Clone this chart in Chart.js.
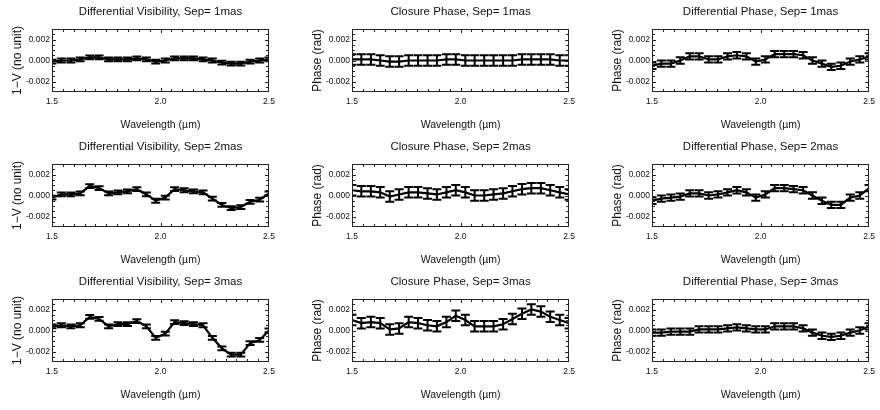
<!DOCTYPE html>
<html>
<head>
<meta charset="utf-8">
<script src="https://cdn.jsdelivr.net/npm/chart.js@4/dist/chart.umd.min.js"></script>
<style>
  html, body { margin: 0; padding: 0; background: #fff; }
  #wrap { position: relative; width: 880px; height: 410px; overflow: hidden; }
  #wrap canvas { position: absolute; }
</style>
</head>
<body>
<div id="wrap"></div>
<script>
// ── Data ────────────────────────────────────────────────────────
const wavelength = [1.500, 1.543, 1.587, 1.630, 1.674, 1.717, 1.761, 1.804, 1.848, 1.891, 1.935, 1.978,
                    2.022, 2.065, 2.109, 2.152, 2.196, 2.239, 2.283, 2.326, 2.370, 2.413, 2.457, 2.500];

const dvSep1 = [-0.0001, 0.0000, 0.0000, 0.0001, 0.0003, 0.0003, 0.0001, 0.0001, 0.0001, 0.0002, 0.0001, -0.0001,
                 0.0000, 0.0002, 0.0002, 0.0002, 0.0001, 0.0000, -0.0002, -0.0003, -0.0003, -0.0001, 0.0000, 0.0001];
const dvSep2 = [-0.0002, 0.0001, 0.0001, 0.0002, 0.0009, 0.0007, 0.0002, 0.0003, 0.0004, 0.0006, 0.0001, -0.0005,
                -0.0002, 0.0006, 0.0005, 0.0004, 0.0003, -0.0003, -0.0009, -0.0012, -0.0011, -0.0006, -0.0004, 0.0002];
const dvSep3 = [0.0004, 0.0005, 0.0004, 0.0005, 0.0013, 0.0011, 0.0004, 0.0006, 0.0006, 0.0009, 0.0004, -0.0007,
                -0.0003, 0.0008, 0.0007, 0.0006, 0.0005, -0.0007, -0.0017, -0.0023, -0.0023, -0.0012, -0.0009, 0.0000];

const cpSep1 = [0.0001, 0.0001, 0.0001, 0.0000, -0.0001, -0.0001, 0.0000, 0.0000, 0.0000, 0.0000, 0.0001, 0.0001,
                0.0000, 0.0000, 0.0000, 0.0000, 0.0000, 0.0000, 0.0001, 0.0001, 0.0001, 0.0001, 0.0000, 0.0000];
const cpSep2 = [0.0005, 0.0004, 0.0004, 0.0003, -0.0001, 0.0001, 0.0003, 0.0003, 0.0002, 0.0001, 0.0003, 0.0005,
                0.0003, 0.0000, 0.0000, 0.0001, 0.0002, 0.0004, 0.0006, 0.0007, 0.0007, 0.0005, 0.0003, 0.0001];
const cpSep3 = [0.0010, 0.0007, 0.0008, 0.0007, 0.0001, 0.0002, 0.0008, 0.0007, 0.0005, 0.0004, 0.0008, 0.0014,
                0.0010, 0.0004, 0.0004, 0.0004, 0.0006, 0.0011, 0.0016, 0.0020, 0.0018, 0.0013, 0.0010, 0.0007];

const dpSep1 = [-0.0005, -0.0003, -0.0003, 0.0000, 0.0004, 0.0004, 0.0001, 0.0001, 0.0004, 0.0005, 0.0004, -0.0001,
                 0.0001, 0.0006, 0.0006, 0.0006, 0.0005, 0.0000, -0.0003, -0.0006, -0.0005, -0.0001, 0.0001, 0.0004];
const dpSep2 = [-0.0005, -0.0003, -0.0002, -0.0001, 0.0002, 0.0002, 0.0000, 0.0001, 0.0003, 0.0005, 0.0003, -0.0002,
                 0.0001, 0.0007, 0.0007, 0.0006, 0.0005, 0.0000, -0.0005, -0.0009, -0.0009, -0.0002, 0.0000, 0.0007];
const dpSep3 = [-0.0002, -0.0002, -0.0001, -0.0001, -0.0001, 0.0001, 0.0001, 0.0001, 0.0002, 0.0003, 0.0002, 0.0001,
                 0.0001, 0.0004, 0.0004, 0.0004, 0.0002, -0.0002, -0.0005, -0.0006, -0.0005, -0.0002, 0.0000, 0.0004];

// half-height of the error bars
const dvErr = 0.00018;
const cpErr = 0.0005;
const dpErr = 0.0003;

const xTickValues = [1.5, 2.0, 2.5];
const yTickValues = [-0.002, 0, 0.002];
const xRange = [1.5, 2.5];
const yRange = [-0.003, 0.003];

const separations = ['1mas', '2mas', '3mas'];
const panelTitles = ['Differential Visibility, Sep= ', 'Closure Phase, Sep= ', 'Differential Phase, Sep= '];
const yTitles = ['1\u2212V (no unit)', 'Phase (rad)', 'Phase (rad)'];
const xTitle = 'Wavelength (\u00b5m)';

const seriesByColumn = [[dvSep1, dvSep2, dvSep3], [cpSep1, cpSep2, cpSep3], [dpSep1, dpSep2, dpSep3]];
const errByColumn = [dvErr, cpErr, dpErr];

// ── Layout ──────────────────────────────────────────────────────
const FONT = '"Liberation Sans", Arial, sans-serif';
const cols = [
  { left: 0,   width: 290, axisW: 52, padR: 21, yTitlePad: 10 },
  { left: 290, width: 290, axisW: 62, padR: 6,  yTitlePad: 20 },
  { left: 580, width: 300, axisW: 72, padR: 7,  yTitlePad: 30 },
];
const rowTops = [0, 135, 270];
const ROW_H = 135;

// frame, inward ticks and error bars
const framePlugin = {
  id: 'frameErr',
  afterDatasetsDraw(chart) {
    const { ctx, chartArea: a, scales: { x, y } } = chart;
    const ds = chart.data.datasets[0];
    const err = ds.err;
    const cap = 4.5;

    ctx.save();
    ctx.beginPath();
    ctx.rect(a.left, a.top, a.right - a.left, a.bottom - a.top);
    ctx.clip();
    ctx.strokeStyle = '#000';
    ctx.lineWidth = 2;
    ds.data.forEach(p => {
      const px = x.getPixelForValue(p.x);
      const t = y.getPixelForValue(p.y + err);
      const b = y.getPixelForValue(p.y - err);
      ctx.beginPath();
      ctx.moveTo(px, t); ctx.lineTo(px, b);
      ctx.moveTo(px - cap, t); ctx.lineTo(px + cap, t);
      ctx.moveTo(px - cap, b); ctx.lineTo(px + cap, b);
      ctx.stroke();
    });
    ctx.restore();

    ctx.save();
    ctx.strokeStyle = '#222';
    ctx.lineWidth = 1;
    ctx.strokeRect(Math.round(a.left) + 0.5, Math.round(a.top) + 0.5,
                   Math.round(a.right - a.left) - 1, Math.round(a.bottom - a.top) - 1);
    ctx.beginPath();
    // x ticks every 0.05, longer on labelled values
    for (let i = 1; i < 20; i++) {
      const v = xRange[0] + i * 0.05;
      const px = Math.round(x.getPixelForValue(v)) + 0.5;
      const len = (i % 10 === 0) ? 4 : 3;
      ctx.moveTo(px, a.bottom); ctx.lineTo(px, a.bottom - len);
      ctx.moveTo(px, a.top); ctx.lineTo(px, a.top + len);
    }
    // y ticks every 0.0005
    for (let i = 1; i < 12; i++) {
      const v = yRange[0] + i * 0.0005;
      const py = Math.round(y.getPixelForValue(v)) + 0.5;
      const len = (i % 4 === 2) ? 4 : 3;
      ctx.moveTo(a.left, py); ctx.lineTo(a.left + len, py);
      ctx.moveTo(a.right, py); ctx.lineTo(a.right - len, py);
    }
    ctx.stroke();
    ctx.restore();
  }
};

const wrap = document.getElementById('wrap');

rowTops.forEach((top, r) => {
  cols.forEach((c, ci) => {
    const canvas = document.createElement('canvas');
    canvas.width = c.width;
    canvas.height = ROW_H;
    canvas.style.left = c.left + 'px';
    canvas.style.top = top + 'px';
    canvas.style.width = c.width + 'px';
    canvas.style.height = ROW_H + 'px';
    wrap.appendChild(canvas);

    const values = seriesByColumn[ci][r];

    new Chart(canvas, {
      type: 'line',
      data: {
        datasets: [{
          data: wavelength.map((w, i) => ({ x: w, y: values[i] })),
          err: errByColumn[ci],
          borderColor: '#000',
          borderWidth: 2.2,
          pointRadius: 0,
          tension: 0,
          fill: false,
        }],
      },
      options: {
        responsive: false,
        animation: false,
        events: [],
        layout: { padding: { left: 0, right: c.padR, top: 0, bottom: 0 } },
        plugins: {
          legend: { display: false },
          tooltip: { enabled: false },
          title: {
            display: true,
            fullSize: false,
            text: panelTitles[ci] + separations[r],
            color: '#111',
            font: { family: FONT, size: 11.5, weight: 'normal' },
            padding: { top: 5, bottom: 10.2 },
          },
        },
        scales: {
          x: {
            type: 'linear',
            min: xRange[0], max: xRange[1],
            grid: { display: false, drawTicks: false },
            border: { display: false },
            ticks: {
              color: '#111', padding: 5, maxRotation: 0,
              font: { family: FONT, size: 8.5 },
              callback: v => Number(v).toFixed(1),
            },
            afterBuildTicks: s => { s.ticks = xTickValues.map(v => ({ value: v })); },
            title: {
              display: true, text: xTitle, color: '#111',
              font: { family: FONT, size: 10.5 },
              padding: { top: 0, bottom: 4 },
            },
            afterFit: s => { s.height = 43; },
          },
          y: {
            min: yRange[0], max: yRange[1],
            grid: { display: false, drawTicks: false },
            border: { display: false },
            ticks: {
              color: '#111', padding: 2,
              font: { family: FONT, size: 8.5 },
              callback: v => Number(v).toFixed(3),
            },
            afterBuildTicks: s => { s.ticks = yTickValues.map(v => ({ value: v })); },
            title: {
              display: true, text: yTitles[ci], color: '#111',
              font: { family: FONT, size: 12 },
              padding: { top: c.yTitlePad, bottom: 0 },
            },
            afterFit: s => { s.width = c.axisW; },
          },
        },
      },
      plugins: [framePlugin],
    });
  });
});
</script>
</body>
</html>
